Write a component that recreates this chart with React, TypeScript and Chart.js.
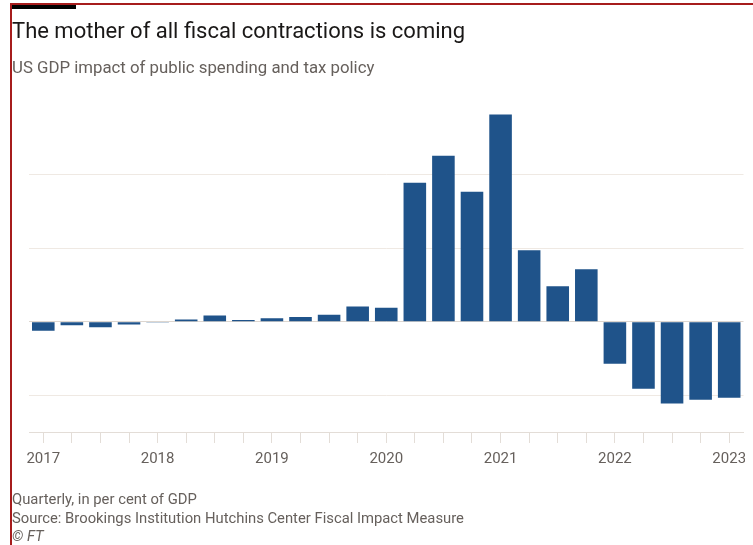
import React, { useEffect, useRef } from "react";
import { Chart, registerables } from "chart.js";

Chart.register(...registerables);

const title = "The mother of all fiscal contractions is coming";
const subtitle = "US GDP impact of public spending and tax policy";
const footNotes = [
  "Quarterly, in per cent of GDP",
  "Source: Brookings Institution Hutchins Center Fiscal Impact Measure",
];
const credit = "© FT";

const quarters = [
  "2017 Q1", "2017 Q2", "2017 Q3", "2017 Q4",
  "2018 Q1", "2018 Q2", "2018 Q3", "2018 Q4",
  "2019 Q1", "2019 Q2", "2019 Q3", "2019 Q4",
  "2020 Q1", "2020 Q2", "2020 Q3", "2020 Q4",
  "2021 Q1", "2021 Q2", "2021 Q3", "2021 Q4",
  "2022 Q1", "2022 Q2", "2022 Q3", "2022 Q4",
  "2023 Q1",
];
const fiscalImpact = [
  -0.49, -0.2, -0.31, -0.15,
  -0.02, 0.12, 0.33, 0.09,
  0.18, 0.25, 0.38, 0.82,
  0.76, 7.55, 9.02, 7.06,
  11.27, 3.88, 1.92, 2.85,
  -2.29, -3.65, -4.45, -4.24,
  -4.14,
];
const gridValues = [-4, 0, 4, 8];

const FONT = "Roboto, 'Open Sans', sans-serif";
const GREY = "#66605c";

export default function App() {
  const canvasRef = useRef<HTMLCanvasElement | null>(null);

  useEffect(() => {
    const canvas = canvasRef.current;
    if (!canvas) return;
    const chart = new Chart(canvas, {
      type: "bar",
      data: {
        labels: quarters,
        datasets: [
          {
            data: fiscalImpact,
            backgroundColor: "#1f538a",
            borderWidth: 0,
            barPercentage: 0.79,
            categoryPercentage: 1,
          },
        ],
      },
      options: {
        animation: false,
        responsive: false,
        maintainAspectRatio: false,
        devicePixelRatio: 1,
        layout: { padding: { left: 29, right: 0, top: 101, bottom: 70 } },
        plugins: { legend: { display: false }, tooltip: { enabled: false } },
        scales: {
          x: {
            offset: true,
            afterFit: (axis: any) => {
              axis.paddingLeft = 3.5;
              axis.paddingRight = 1.5;
            },
            grid: {
              display: true,
              drawOnChartArea: false,
              drawTicks: true,
              tickLength: 11,
              color: "#e3ddd7",
              offset: false,
            },
            border: { display: true, color: "#e3ddd7", width: 1 },
            ticks: {
              autoSkip: false,
              maxRotation: 0,
              minRotation: 0,
              padding: 7,
              color: GREY,
              font: { family: FONT, size: 15 },
              callback: (_v, i) => {
                const q = quarters[i as number];
                return q.endsWith("Q1") ? q.slice(0, 4) : "";
              },
            },
          },
          y: {
            position: "left",
            min: -6,
            max: 12,
            afterBuildTicks: (axis) => {
              axis.ticks = gridValues.map((v) => ({ value: v }));
            },
            grid: {
              color: (ctx) => (ctx.tick && ctx.tick.value === 0 ? "#ddd6cf" : "#efe9e3"),
              drawTicks: false,
              tickLength: 0,
              lineWidth: 1,
            },
            border: { display: false },
            ticks: { display: false },
          },
        },
      },
    });
    return () => chart.destroy();
  }, []);

  return (
    <div
      style={{
        position: "fixed",
        left: 0,
        top: 0,
        width: 753,
        height: 545,
        background: "#fff",
        overflow: "hidden",
        fontFamily: FONT,
      }}
    >
      <div style={{ position: "absolute", left: 10, top: 3, width: 743, height: 2, background: "#a61c1c" }} />
      <div style={{ position: "absolute", left: 10, top: 3, width: 2, height: 542, background: "#a61c1c" }} />
      <div style={{ position: "absolute", left: 12, top: 5, width: 64, height: 4, background: "#000" }} />
      <canvas
        ref={canvasRef}
        width={745}
        height={545}
        style={{ position: "absolute", left: 0, top: 0, width: 745, height: 545 }}
      />
      <div
        style={{
          position: "absolute",
          left: 12,
          top: 17,
          fontSize: 22,
          lineHeight: "28px",
          color: "#1a1817",
          whiteSpace: "nowrap",
        }}
      >
        {title}
      </div>
      <div
        style={{
          position: "absolute",
          left: 12,
          top: 56,
          fontSize: 16.8,
          lineHeight: "22px",
          color: GREY,
          whiteSpace: "nowrap",
        }}
      >
        {subtitle}
      </div>
      <div
        style={{
          position: "absolute",
          left: 12,
          top: 490,
          fontSize: 14.8,
          lineHeight: "18.5px",
          color: GREY,
          whiteSpace: "nowrap",
        }}
      >
        {footNotes.map((t) => (
          <div key={t}>{t}</div>
        ))}
        <div style={{ fontStyle: "italic" }}>{credit}</div>
      </div>
    </div>
  );
}
